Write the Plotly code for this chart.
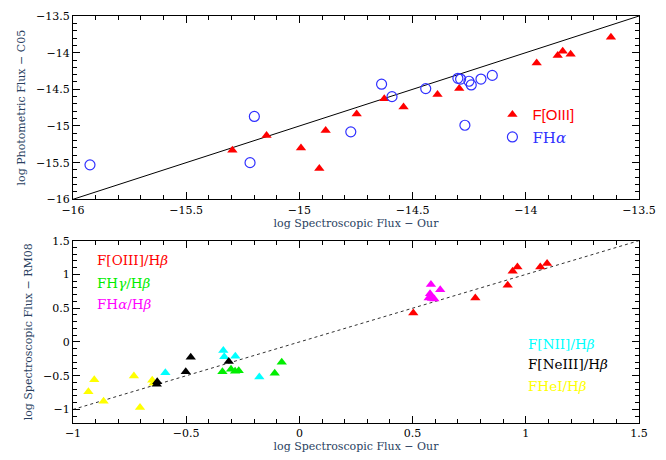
import plotly.graph_objects as go

# ---------------- data: top panel ----------------
oiii_x = [-15.296, -15.145, -14.993, -14.912, -14.884, -14.747, -14.625, -14.54,
          -14.39, -14.294, -13.952, -13.859, -13.837, -13.802, -13.624]
oiii_y = [-15.33, -15.13, -15.30, -15.58, -15.06, -14.835, -14.63, -14.74,
          -14.57, -14.49, -14.14, -14.04, -13.98, -14.02, -13.79]
ha_x = [-15.925, -15.199, -15.218, -14.773, -14.637, -14.591, -14.442, -14.30,
        -14.288, -14.251, -14.241, -14.198, -14.148, -14.269]
ha_y = [-15.53, -14.87, -15.50, -15.08, -14.43, -14.60, -14.49, -14.35,
        -14.36, -14.39, -14.44, -14.36, -14.31, -14.99]
top_line = [-16, -13.5]

# ---------------- data: bottom panel ----------------
hei_x = [-0.932, -0.906, -0.865, -0.731, -0.704, -0.650, -0.644]
hei_y = [-0.737, -0.561, -0.878, -0.503, -0.971, -0.566, -0.61]
neiii_x = [-0.630, -0.628, -0.502, -0.480, -0.312]
neiii_y = [-0.625, -0.59, -0.44, -0.225, -0.29]
nii_x = [-0.592, -0.336, -0.332, -0.283, -0.177]
nii_y = [-0.455, -0.128, -0.22, -0.21, -0.518]
hg_x = [-0.34, -0.302, -0.284, -0.268, -0.109, -0.078]
hg_y = [-0.44, -0.405, -0.435, -0.425, -0.465, -0.30]
hab_x = [0.581, 0.622, 0.577, 0.571, 0.596, 0.586]
hab_y = [0.852, 0.774, 0.715, 0.652, 0.637, 0.645]
oiiib_x = [0.503, 0.777, 0.920, 0.942, 0.963, 1.064, 1.094]
oiiib_y = [0.428, 0.652, 0.838, 1.047, 1.11, 1.11, 1.16]
bot_line = [-1, 1.5]

top_xticks = [-16, -15.5, -15, -14.5, -14, -13.5]
top_yticks = [-16, -15.5, -15, -14.5, -14, -13.5]
bot_xticks = [-1, -0.5, 0, 0.5, 1, 1.5]
bot_yticks = [-1, -0.5, 0, 0.5, 1, 1.5]

SERIF = "DejaVu Serif"
RED = "#ff0000"
BLUE = "#3030ff"

fig = go.Figure()

# top panel
fig.add_trace(go.Scatter(x=top_line, y=top_line, mode="lines",
                         line=dict(color="black", width=1), showlegend=False,
                         xaxis="x", yaxis="y"))
fig.add_trace(go.Scatter(x=oiii_x, y=oiii_y, mode="markers",
                         marker=dict(symbol="triangle-up", size=9, color=RED),
                         name='<span style="font-family:Liberation Sans;color:#ff0000">F[OIII]</span>',
                         xaxis="x", yaxis="y", legend="legend"))
fig.add_trace(go.Scatter(x=ha_x, y=ha_y, mode="markers",
                         marker=dict(symbol="circle-open", size=10, color=BLUE,
                                     line=dict(width=1.2, color=BLUE)),
                         name='<span style="color:#3030ff">FH<i>α</i></span>',
                         xaxis="x", yaxis="y", legend="legend"))

# bottom panel
fig.add_trace(go.Scatter(x=bot_line, y=bot_line, mode="lines",
                         line=dict(color="#333333", width=1, dash="dot"),
                         showlegend=False, xaxis="x2", yaxis="y2"))
for xs, ys, col in [(hei_x, hei_y, "#ffff00"), (hg_x, hg_y, "#00ee00"),
                    (nii_x, nii_y, "#00ffff"), (neiii_x, neiii_y, "#000000"),
                    (hab_x, hab_y, "#ff00ff"), (oiiib_x, oiiib_y, RED)]:
    fig.add_trace(go.Scatter(x=xs, y=ys, mode="markers",
                             marker=dict(symbol="triangle-up", size=9, color=col),
                             showlegend=False, xaxis="x2", yaxis="y2"))

tickfont = dict(family=SERIF, size=11, color="black")
common = dict(showline=True, linecolor="black", linewidth=1, mirror="allticks",
              ticks="inside", ticklen=7, tickwidth=1, tickcolor="black",
              showgrid=False, zeroline=False, tickfont=tickfont,
              minor=dict(ticks="inside", ticklen=4, tickwidth=1, tickcolor="black",
                         dtick=0.1, showgrid=False))

fig.update_layout(
    width=666, height=460,
    margin=dict(l=73, r=27, t=10, b=37),
    paper_bgcolor="white", plot_bgcolor="white",
    xaxis=dict(domain=[0, 1], range=[-16, -13.5], tickvals=top_xticks, anchor="y",
               title=dict(text="log Spectroscopic Flux − Our", font=dict(family=SERIF, size=11),
                          standoff=0), **common),
    yaxis=dict(domain=[0.5496, 1], range=[-16, -13.5], tickvals=top_yticks, anchor="x",
               title=dict(text="log Photometric Flux − C05", font=dict(family=SERIF, size=11),
                          standoff=8), **common),
    xaxis2=dict(domain=[0, 1], range=[-1, 1.5], tickvals=bot_xticks, anchor="y2",
                title=dict(text="log Spectroscopic Flux − Our", font=dict(family=SERIF, size=11),
                           standoff=2), **common),
    yaxis2=dict(domain=[0, 0.448], range=[-1.2, 1.5], tickvals=bot_yticks, anchor="x2",
                title=dict(text="log Spectroscopic Flux − RM08", font=dict(family=SERIF, size=11),
                           standoff=8), **common),
    legend=dict(x=0.741, y=0.798, xanchor="left", yanchor="top",
                bgcolor="rgba(0,0,0,0)", font=dict(family=SERIF, size=15),
                itemwidth=30, tracegroupgap=0),
    showlegend=True,
)

ann = [
    ("F[OIII]/H<i>β</i>", RED, 95, 258),
    ("FH<i>γ</i>/H<i>β</i>", "#00ee00", 95, 281),
    ("FH<i>α</i>/H<i>β</i>", "#ff00ff", 95, 302),
    ("F[NII]/H<i>β</i>", "#00ffff", 526, 343),
    ("F[NeIII]/H<i>β</i>", "#000000", 526, 363),
    ("FHeI/H<i>β</i>", "#ffff00", 526, 385),
]
ph = 460 - 10 - 37
pw = 666 - 73 - 27
for txt, col, px, py in ann:
    fig.add_annotation(text=txt, xref="paper", yref="paper",
                       x=(px - 73) / pw, y=(423 - py) / ph,
                       xanchor="left", yanchor="middle", showarrow=False,
                       font=dict(family=SERIF, size=13.5, color=col))

fig.write_html("out.html")
